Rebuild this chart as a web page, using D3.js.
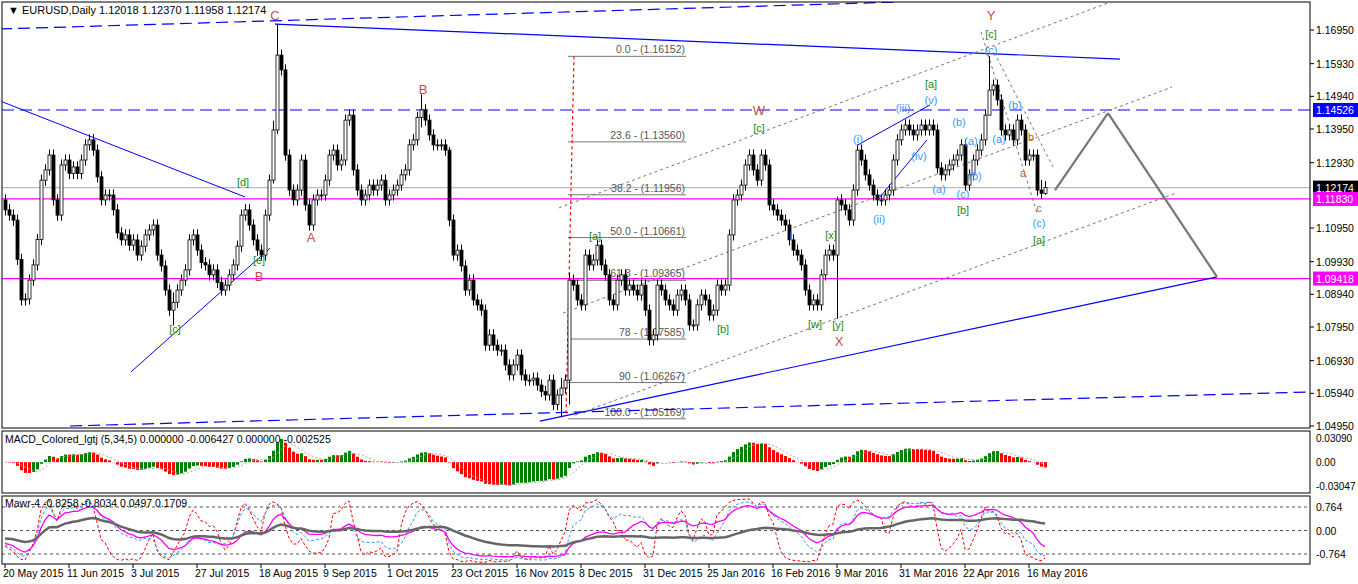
<!DOCTYPE html>
<html lang="en">
<head>
<meta charset="utf-8">
<title>EURUSD Daily</title>
<script src="https://cdn.jsdelivr.net/npm/d3@7"></script>
<style>
  body { margin: 0; background: #fff; font-family: "Liberation Sans", Arial, sans-serif; }
  svg text { font-size: 10.5px; }
</style>
</head>
<body>
<script>
// daily closes, 20 May 2015 .. 19 May 2016
var closes = [1.1150,1.1134,1.1119,1.1000,1.0877,1.0880,1.0937,1.0983,1.1060,1.1240,1.1271,1.1316,1.1180,1.1134,1.1286,1.1301,
1.1260,1.1280,1.1260,1.1301,1.1347,1.1362,1.1331,1.1250,1.1180,1.1195,1.1195,1.1150,1.1080,1.1059,1.1074,1.1043,
1.1059,1.1013,1.1040,1.1074,1.1089,1.1104,1.1013,1.0980,1.0907,1.0846,1.0870,1.0907,1.0937,1.0968,1.1059,1.1074,
1.1028,1.0990,1.0983,1.0953,1.0968,1.0930,1.0907,1.0922,1.0953,1.0983,1.1040,1.1134,1.1150,1.1104,1.1059,1.1028,
1.1013,1.1134,1.1240,1.1392,1.1619,1.1574,1.1316,1.1210,1.1180,1.1210,1.1301,1.1165,1.1104,1.1180,1.1195,1.1195,
1.1240,1.1316,1.1331,1.1286,1.1301,1.1422,1.1437,1.1271,1.1210,1.1180,1.1195,1.1225,1.1210,1.1225,1.1240,1.1180,
1.1195,1.1210,1.1225,1.1256,1.1271,1.1347,1.1362,1.1430,1.1453,1.1422,1.1377,1.1347,1.1347,1.1347,1.1331,1.1119,
1.1013,1.1028,1.0980,1.0907,1.0937,1.0877,1.0862,1.0846,1.0740,1.0771,1.0740,1.0725,1.0725,1.0680,1.0650,1.0680,
1.0710,1.0650,1.0634,1.0634,1.0640,1.0619,1.0600,1.0589,1.0634,1.0560,1.0589,1.0610,1.0634,1.0937,1.0922,1.0877,
1.0862,1.1013,1.0983,1.0998,1.1043,1.0983,1.0953,1.0877,1.0862,1.0937,1.0953,1.0907,1.0922,1.0907,1.0892,1.0922,
1.0846,1.0756,1.0771,1.0922,1.0907,1.0877,1.0862,1.0846,1.0892,1.0907,1.0877,1.0801,1.0801,1.0862,1.0892,1.0877,
1.0831,1.0846,1.0922,1.0907,1.0922,1.1074,1.1180,1.1195,1.1225,1.1286,1.1316,1.1271,1.1240,1.1316,1.1286,1.1165,
1.1150,1.1134,1.1119,1.1104,1.1059,1.1028,1.1013,1.0983,1.0907,1.0862,1.0877,1.0862,1.0953,1.1013,1.1028,1.1013,
1.1180,1.1165,1.1150,1.1119,1.1210,1.1331,1.1301,1.1256,1.1225,1.1195,1.1180,1.1180,1.1195,1.1210,1.1301,1.1362,
1.1392,1.1407,1.1392,1.1377,1.1392,1.1407,1.1392,1.1407,1.1392,1.1277,1.1256,1.1271,1.1286,1.1301,1.1316,1.1347,
1.1225,1.1256,1.1301,1.1331,1.1362,1.1437,1.1513,1.1528,1.1483,1.1392,1.1377,1.1392,1.1362,1.1422,1.1392,1.1301,
1.1316,1.1316,1.1210,1.1200,1.12174];
var firstOpen = 1.1180;
// notable wick extremes: [bar, high, low]
var extremes = [[68,1.1714,1.1380],[67,1.1420,1.1230],[139,1.0640,1.0524],[141,1.0960,1.0560],[208,1.1190,1.0820],
  [246,1.1616,1.1440],[104,1.1500,1.1400],[111,1.1340,1.1100],[260,1.12370,1.11958],[259,1.1240,1.1183],[42,1.0900,1.0800]];
var WICK = 0.0017;

var dateLabels = ["20 May 2015","11 Jun 2015","3 Jul 2015","27 Jul 2015","18 Aug 2015","9 Sep 2015","1 Oct 2015",
  "23 Oct 2015","16 Nov 2015","8 Dec 2015","31 Dec 2015","25 Jan 2016","16 Feb 2016","9 Mar 2016","31 Mar 2016",
  "22 Apr 2016","16 May 2016"];
var priceTicks = [1.16950,1.15930,1.14940,1.13950,1.12930,1.10950,1.09930,1.08940,1.07950,1.06930,1.05940,1.04950];
var priceBoxes = [[1.14526,"#0000ff","#fff"],[1.12174,"#000","#fff"],[1.11830,"#ff00ff","#fff"],[1.09418,"#ff00ff","#fff"]];
var macdTicks = [[0.03090,"0.03090"],[0,"0.00"],[-0.03047,"-0.03047"]];
var mawrTicks = [[0.764,"0.764"],[0,"0.00"],[-0.764,"-0.764"]];

// trend lines [bar1, price1, bar2, price2, colour, dash, width]
var trendLines = [
  [-1.25,1.1698,223.75,1.1780,"#0000ff","12,6",1.2],
  [67.5,1.1713,278.75,1.1607,"#0000ff",null,1.2],
  [16.25,1.0495,326.25,1.0598,"#0000ff","12,6",1.2],
  [133.75,1.0510,303,1.0947,"#0000ff",null,1.2],
  [-1.25,1.1480,60,1.1189,"#0000ff",null,1],
  [31.5,1.0659,66.25,1.1034,"#0000ff",null,1],
  [213.25,1.1347,231.25,1.1468,"#0000ff",null,1],
  [218.75,1.1189,230.5,1.1362,"#0000ff",null,1],
  [138.5,1.1156,275.75,1.1777,"#777","3,3",1],
  [139.5,1.0837,291.75,1.1522,"#777","3,3",1],
  [142.5,1.0528,292.75,1.1201,"#777","3,3",1],
  [244,1.1690,258,1.1140,"#777","3,3",1],
  [248,1.1610,262,1.1280,"#777","3,3",1],
  [262.5,1.1210,275.75,1.1443,"#777",null,2.2],
  [275.75,1.1443,303,1.0947,"#777",null,2.2],
  [142.25,1.16152,140.25,1.0529,"#ff0000","3,3",1.2]
];
var hLines = [[1.14526,"#0000ff","12,6"],[1.12174,"#bbb",null],[1.11830,"#ff00ff",null],[1.09418,"#ff00ff",null]];
var fibLevels = [["0.0",1.16152],["23.6",1.13560],["38.2",1.11956],["50.0",1.10661],["61.8",1.09365],["78",1.07585],["90",1.06267],["100.0",1.05169]];
var fibFrom = 140.75, fibTo = 170.25;

// wave labels [bar, price, text, colour]
var R = "#c0504d", G = "#1a8a1a", C = "#3399ff", O = "#c06020";
var waveLabels = [
  [67.5,1.1737,"C",R],[104.5,1.1513,"B",R],[76.5,1.1065,"A",R],[63.5,1.0947,"B",R],
  [59.5,1.1234,"[d]",G],[63.5,1.0998,"[e]",G],[42.5,1.0789,"[c]",G],
  [188.5,1.1450,"W",R],[188.5,1.1398,"[c]",G],[147.5,1.1071,"[a]",G],[179.5,1.0789,"[b]",G],
  [202.5,1.0804,"[w]",G],[208.25,1.0801,"[y]",G],[208.5,1.0750,"X",R],[206.5,1.1074,"[x]",G],
  [196.5,1.1071,"i",C],[213.25,1.1365,"(i)",C],[218.5,1.1122,"(ii)",C],
  [246.5,1.1737,"Y",R],[246.5,1.1683,"[c]",G],[246.5,1.1634,"(c)",C],
  [231.5,1.1531,"[a]",G],[231.5,1.1483,"(v)",C],[224.5,1.1459,"(iii)",C],[228.5,1.1313,"(iv)",C],
  [233.5,1.1213,"(a)",C],[238.5,1.1416,"(b)",C],[239.5,1.1198,"(c)",C],[239.5,1.1150,"[b]",G],
  [241.5,1.1359,"(a)",C],[242.5,1.1253,"(b)",C],[248.5,1.1365,"(a)",C],[252.5,1.1468,"(b)",C],
  [256.5,1.1371,"b",O],[254.5,1.1262,"a",O],[258.5,1.1156,"c",O],[258.5,1.1110,"(c)",C],[258.5,1.1059,"[a]",G]
];

var W = 1358, H = 584, right = 1310;
var svg = d3.select("body").append("svg").attr("width", W).attr("height", H);

var x = d3.scaleLinear().domain([0, 1]).range([5, 9]);
var y = d3.scaleLinear().domain([1.1695, 1.0495]).range([30, 426]);

var defs = svg.append("defs");
defs.append("clipPath").attr("id", "cm").append("rect").attr("x", 2).attr("y", 2).attr("width", right - 2).attr("height", 426);
defs.append("clipPath").attr("id", "c1").append("rect").attr("x", 2).attr("y", 432).attr("width", right - 2).attr("height", 61);
defs.append("clipPath").attr("id", "c2").append("rect").attr("x", 2).attr("y", 497).attr("width", right - 2).attr("height", 67);

// bars
var bars = closes.map(function(c, i) {
  var o = i === 0 ? firstOpen : closes[i - 1];
  var hi = Math.max(o, c) + WICK, lo = Math.min(o, c) - WICK;
  extremes.forEach(function(e) { if (e[0] === i) { hi = e[1]; lo = e[2]; } });
  return {i: i, o: o, c: c, h: hi, l: lo};
});

var main = svg.append("g").attr("clip-path", "url(#cm)");

hLines.forEach(function(h) {
  main.append("line").attr("x1", 2).attr("x2", right).attr("y1", y(h[0])).attr("y2", y(h[0]))
    .attr("stroke", h[1]).attr("stroke-width", 1.2).attr("stroke-dasharray", h[2]);
});

fibLevels.forEach(function(f) {
  main.append("line").attr("x1", x(fibFrom)).attr("x2", x(fibTo)).attr("y1", y(f[1])).attr("y2", y(f[1]))
    .attr("stroke", "#777").attr("stroke-width", 1);
  main.append("text").attr("x", x(fibTo) - 1).attr("y", y(f[1]) - 3).attr("text-anchor", "end")
    .attr("fill", "#555").text(f[0] + " - (" + f[1].toFixed(5) + ")");
});

trendLines.forEach(function(t) {
  main.append("line").attr("x1", x(t[0])).attr("y1", y(t[1])).attr("x2", x(t[2])).attr("y2", y(t[3]))
    .attr("stroke", t[4]).attr("stroke-width", t[6]).attr("stroke-dasharray", t[5]);
});

var cg = main.selectAll("g.bar").data(bars).enter().append("g");
cg.append("line").attr("x1", function(d) { return x(d.i) + 0.5; }).attr("x2", function(d) { return x(d.i) + 0.5; })
  .attr("y1", function(d) { return y(d.h); }).attr("y2", function(d) { return y(d.l); }).attr("stroke", "#000");
cg.append("rect").attr("x", function(d) { return x(d.i) - 1; }).attr("width", 3)
  .attr("y", function(d) { return y(Math.max(d.o, d.c)); })
  .attr("height", function(d) { return Math.max(1, Math.abs(y(d.o) - y(d.c))); })
  .attr("fill", function(d) { return d.c >= d.o ? "#fff" : "#000"; }).attr("stroke", "#000").attr("stroke-width", 0.8);

main.selectAll("text.wave").data(waveLabels).enter().append("text")
  .attr("x", function(d) { return x(d[0]); }).attr("y", function(d) { return y(d[1]) + 4; })
  .attr("text-anchor", "middle").attr("fill", function(d) { return d[3]; })
  .style("font-size", function(d) { return d[3] === R ? "13px" : "11px"; }).text(function(d) { return d[2]; });

main.append("text").attr("x", 8).attr("y", 14).attr("fill", "#000").style("font-size", "11px")
  .text("\u25BC EURUSD,Daily  1.12018 1.12370 1.11958 1.12174");

// right axis
var ax = svg.append("g");
priceTicks.forEach(function(p) {
  ax.append("line").attr("x1", right).attr("x2", right + 4).attr("y1", y(p)).attr("y2", y(p)).attr("stroke", "#000");
  ax.append("text").attr("x", right + 6).attr("y", y(p) + 4).attr("fill", "#000").text(p.toFixed(5));
});
priceBoxes.forEach(function(b) {
  ax.append("rect").attr("x", right + 3).attr("y", y(b[0]) - 7).attr("width", 45).attr("height", 14).attr("fill", b[1]);
  ax.append("text").attr("x", right + 6).attr("y", y(b[0]) + 4).attr("fill", b[2]).text(b[0].toFixed(5));
});

// MACD (5,34,5) computed from closes
function ema(arr, n) { var k = 2 / (n + 1), out = [], v = arr[0]; arr.forEach(function(a) { v = a * k + v * (1 - k); out.push(v); }); return out; }
function sma(arr, n) { return arr.map(function(a, i) { var s = arr.slice(Math.max(0, i - n + 1), i + 1); return d3.mean(s); }); }
var e5 = ema(closes, 5), e34 = ema(closes, 34);
var macd = closes.map(function(c, i) { return e5[i] - e34[i]; });
var sig = sma(macd, 5);
var ym = d3.scaleLinear().domain([-0.0305, 0.0309]).range([486, 438]);
var mg = svg.append("g").attr("clip-path", "url(#c1)");
mg.selectAll("rect").data(macd).enter().append("rect")
  .attr("x", function(d, i) { return x(i) - 1; }).attr("width", 3)
  .attr("y", function(d) { return Math.min(ym(d), ym(0)); })
  .attr("height", function(d) { return Math.abs(ym(d) - ym(0)); })
  .attr("fill", function(d, i) { return i > 0 && d > macd[i - 1] ? "#008000" : "#ff0000"; });
mg.append("path").datum(sig).attr("fill", "none").attr("stroke", "#aaa").attr("stroke-dasharray", "2,2")
  .attr("d", d3.line().x(function(d, i) { return x(i); }).y(function(d) { return ym(d); }));
mg.append("text").attr("x", 5).attr("y", 443).attr("fill", "#000")
  .text("MACD_Colored_lgtj (5,34,5) 0.000000 -0.006427 0.000000 -0.002525");
macdTicks.forEach(function(t) {
  svg.append("text").attr("x", right + 6).attr("y", ym(t[0]) + 4).attr("fill", "#000").style("font-size", "10px").text(t[1]);
});

// Mawr-4 oscillator lines from closes
function stoch(n) {
  return bars.map(function(b, i) {
    var s = bars.slice(Math.max(0, i - n + 1), i + 1);
    var lo = d3.min(s, function(d) { return d.l; }), hi = d3.max(s, function(d) { return d.h; });
    return 2 * (b.c - lo) / (hi - lo) - 1;
  });
}
var yw = d3.scaleLinear().domain([-0.764, 0.764]).range([554, 507]);
var wg = svg.append("g").attr("clip-path", "url(#c2)");
mawrTicks.forEach(function(t) {
  wg.append("line").attr("x1", 2).attr("x2", right).attr("y1", yw(t[0])).attr("y2", yw(t[0]))
    .attr("stroke", "#555").attr("stroke-dasharray", "3,3");
  svg.append("text").attr("x", right + 6).attr("y", yw(t[0]) + 4).attr("fill", "#000").text(t[1]);
});
var wl = d3.line().x(function(d, i) { return x(i); }).y(function(d) { return yw(d); });
var series = [
  [ema(stoch(12), 2).map(function(v) { return v * 1.1; }), "#ff0000", "3,2", 1],
  [ema(stoch(30), 3), "#3399ff", "3,2", 1],
  [ema(stoch(45), 5).map(function(v) { return v * 0.9; }), "#ff00ff", null, 1.3],
  [ema(stoch(150), 10).map(function(v) { return v * 0.55; }), "#666", null, 2.5]
];
series.forEach(function(s) {
  wg.append("path").datum(s[0]).attr("fill", "none").attr("stroke", s[1]).attr("stroke-width", s[3])
    .attr("stroke-dasharray", s[2]).attr("d", wl);
});
wg.append("text").attr("x", 5).attr("y", 507).attr("fill", "#000").text("Mawr-4 -0.8258 -0.8034 0.0497 0.1709");

// frames
[[2, 2, 426], [2, 431, 62], [2, 496, 68]].forEach(function(f) {
  svg.append("rect").attr("x", f[0]).attr("y", f[1]).attr("width", right - f[0]).attr("height", f[2])
    .attr("fill", "none").attr("stroke", "#000");
});

// date axis
dateLabels.forEach(function(t, k) {
  var xi = x(k * 16);
  svg.append("line").attr("x1", xi).attr("x2", xi).attr("y1", 564).attr("y2", 568).attr("stroke", "#000");
  svg.append("text").attr("x", xi - 2).attr("y", 577).attr("fill", "#000").text(t);
});
</script>
</body>
</html>
